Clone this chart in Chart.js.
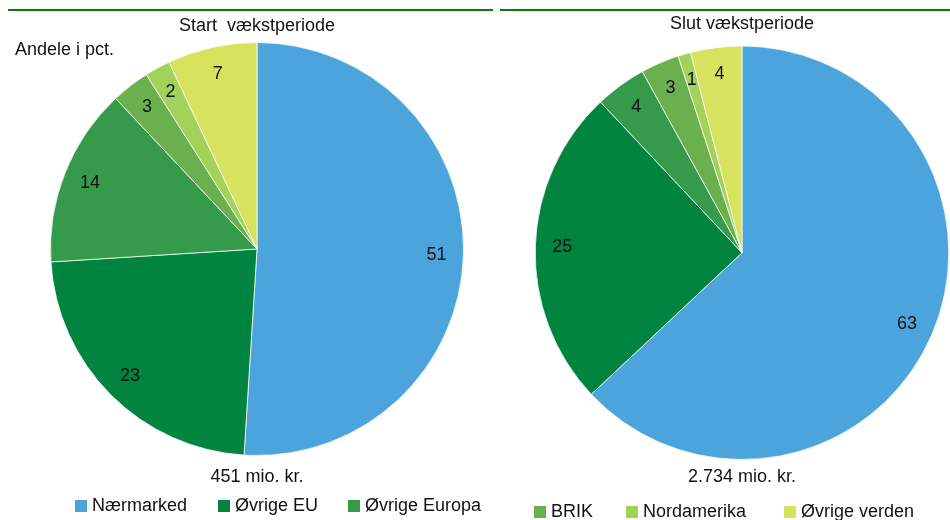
<!DOCTYPE html>
<html><head><meta charset="utf-8">
<script src="https://cdn.jsdelivr.net/npm/chart.js@4.4.1/dist/chart.umd.min.js"></script>
<style>
html,body{margin:0;padding:0;background:#fff;overflow:hidden;width:950px;height:520px}
#wrap{position:relative;width:950px;height:520px}
canvas{position:absolute;top:0}
#c1{left:0}
#c2{left:495px}
</style></head><body>
<div id="wrap">
<canvas id="c1" width="495" height="520"></canvas>
<canvas id="c2" width="455" height="520"></canvas>
</div>
<script>
// ---- data ----
const categories = ['Nærmarked', 'Øvrige EU', 'Øvrige Europa', 'BRIK', 'Nordamerika', 'Øvrige verden'];
const startShares = [51, 23, 14, 3, 2, 7];
const endShares = [63, 25, 4, 3, 1, 4];
const startTitle = 'Start  vækstperiode';
const endTitle = 'Slut vækstperiode';
const startTotal = '451 mio. kr.';
const endTotal = '2.734 mio. kr.';
const shareNote = 'Andele i pct.';

// ---- style ----
const FONT = "'Liberation Sans', Arial, sans-serif";
const sliceColors = ['#4ba5dc', '#00843f', '#359b4a', '#6ab04f', '#a3d25b', '#d7e25e'];

const sliceLabels = {
  id: 'sliceLabels',
  afterDatasetsDraw(chart) {
    const ctx = chart.ctx;
    const meta = chart.getDatasetMeta(0);
    const data = chart.data.datasets[0].data;
    ctx.save();
    ctx.font = '18px ' + FONT;
    ctx.fillStyle = '#111';
    ctx.textAlign = 'center';
    ctx.textBaseline = 'middle';
    meta.data.forEach((arc, i) => {
      const p = arc.getProps(['x', 'y', 'startAngle', 'endAngle', 'outerRadius'], true);
      const mid = (p.startAngle + p.endAngle) / 2;
      const r = p.outerRadius * 0.87;
      ctx.fillText(String(data[i]), p.x + Math.cos(mid) * r, p.y + Math.sin(mid) * r);
    });
    ctx.restore();
  }
};

const decor = {
  id: 'decor',
  afterDraw(chart, args, o) {
    const ctx = chart.ctx;
    ctx.save();
    ctx.fillStyle = '#0b7b0b';
    ctx.fillRect(o.ruleX0, o.ruleY, o.ruleX1 - o.ruleX0, 2);
    ctx.font = '18px ' + FONT;
    if (o.note) {
      ctx.fillStyle = '#111';
      ctx.textAlign = 'left';
      ctx.textBaseline = 'alphabetic';
      ctx.fillText(o.note, o.noteX, o.noteY);
    }
    const ds = chart.data.datasets[0];
    ctx.textAlign = 'left';
    ctx.textBaseline = 'middle';
    o.legendItems.forEach((idx, k) => {
      const x = o.legendX[k];
      ctx.fillStyle = ds.backgroundColor[idx];
      ctx.fillRect(x, o.legendY, 12, 12);
      ctx.fillStyle = '#111';
      ctx.fillText(chart.data.labels[idx], x + 17, o.legendY + 6.5);
    });
    ctx.restore();
  }
};

function makePie(id, values, title, total, lay) {
  return new Chart(document.getElementById(id), {
    type: 'pie',
    data: {
      labels: categories,
      datasets: [{
        data: values,
        backgroundColor: sliceColors,
        borderColor: 'rgba(255,255,255,0.75)',
        borderWidth: 1
      }]
    },
    options: {
      responsive: false,
      animation: false,
      devicePixelRatio: 1,
      layout: { padding: lay.padding },
      plugins: {
        legend: { display: false },
        tooltip: { enabled: false },
        title: {
          display: true, text: title, color: '#111',
          font: { family: FONT, size: 18, weight: 'normal', lineHeight: 1.2 },
          padding: lay.titlePad
        },
        subtitle: {
          display: true, text: total, position: 'bottom', color: '#111',
          font: { family: FONT, size: 18, weight: 'normal', lineHeight: 1.2 },
          padding: lay.subPad
        },
        decor: lay.decor
      }
    },
    plugins: [sliceLabels, decor]
  });
}

makePie('c1', startShares, startTitle, startTotal, {
  padding: { left: 25, right: 6, top: 0, bottom: 32.1 },
  titlePad: { top: 15.5, bottom: 4.9 },
  subPad: { top: 10.3, bottom: 0 },
  decor: { ruleX0: 8, ruleX1: 493, ruleY: 9, note: shareNote, noteX: 15, noteY: 55,
           legendItems: [0, 1, 2], legendX: [75, 218, 348], legendY: 500 }
});

makePie('c2', endShares, endTitle, endTotal, {
  padding: { left: 39, right: 0, top: 0, bottom: 32.1 },
  titlePad: { top: 13, bottom: 10.9 },
  subPad: { top: 6.3, bottom: 0 },
  decor: { ruleX0: 5, ruleX1: 455, ruleY: 9, note: null,
           legendItems: [3, 4, 5], legendX: [39, 131, 289], legendY: 506 }
});
</script>
</body></html>
